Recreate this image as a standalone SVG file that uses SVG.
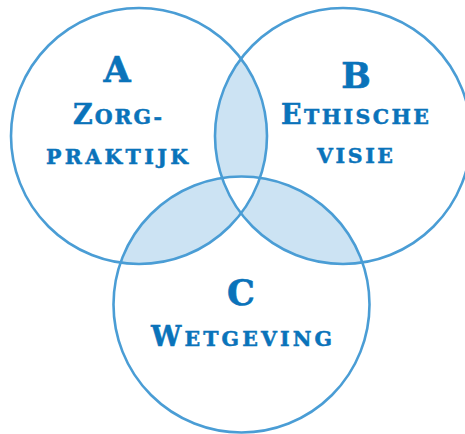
<svg xmlns="http://www.w3.org/2000/svg" width="465" height="434" viewBox="0 0 465 434">
<style>
.ring{fill:none;stroke:#4a9dd5;stroke-width:2.6}
.lens{fill:#cce3f3}
.big{font-family:"DejaVu Serif",serif;font-weight:bold;font-size:35px;fill:#0a73ba;stroke:#0a73ba;stroke-width:0.6;text-anchor:middle}
.lbl{font-family:"DejaVu Serif",serif;font-weight:bold;font-size:27px;fill:#0a73ba;stroke:#0a73ba;stroke-width:0.5;text-anchor:middle}
.sc{font-size:20.5px;text-transform:uppercase}
</style>
<defs>
<clipPath id="cA"><circle cx="139" cy="136" r="128"/></clipPath>
<clipPath id="cB"><circle cx="343" cy="136" r="128"/></clipPath>
</defs>
<rect width="465" height="434" fill="#fff"/>
<g id="overlaps">
<circle class="lens" cx="343" cy="136" r="128" clip-path="url(#cA)"/>
<circle class="lens" cx="241.5" cy="304.5" r="128" clip-path="url(#cA)"/>
<circle class="lens" cx="241.5" cy="304.5" r="128" clip-path="url(#cB)"/>
<g clip-path="url(#cB)"><circle cx="241.5" cy="304.5" r="128" fill="#fff" clip-path="url(#cA)"/></g>
</g>
<g id="nodeA">
<circle class="ring" cx="139" cy="136" r="128"/>
<text class="big" x="117" y="82">A</text>
<text class="lbl" x="117.5" y="124" textLength="89" lengthAdjust="spacing">Z<tspan class="sc">org-</tspan></text>
<text class="lbl" x="117" y="164" textLength="142" lengthAdjust="spacing"><tspan class="sc">praktijk</tspan></text>
</g>
<g id="nodeB">
<circle class="ring" cx="343" cy="136" r="128"/>
<text class="big" x="356" y="88">B</text>
<text class="lbl" x="355" y="124" textLength="148" lengthAdjust="spacing">E<tspan class="sc">thische</tspan></text>
<text class="lbl" x="355" y="163" textLength="76" lengthAdjust="spacing"><tspan class="sc">visie</tspan></text>
</g>
<g id="nodeC">
<circle class="ring" cx="241.5" cy="304.5" r="128"/>
<text class="big" x="241" y="305">C</text>
<text class="lbl" x="241.5" y="346" textLength="181" lengthAdjust="spacing">W<tspan class="sc">etgeving</tspan></text>
</g>
<g id="connectors"></g>
</svg>
